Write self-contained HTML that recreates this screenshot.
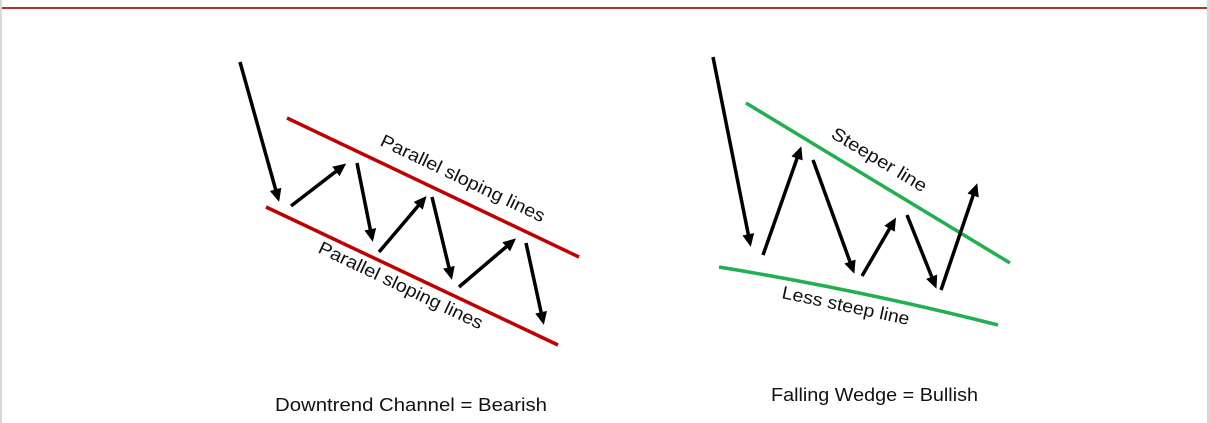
<!DOCTYPE html>
<html><head><meta charset="utf-8"><style>
html,body{margin:0;padding:0;background:#fff;}
svg{display:block;}
text{font-family:"Liberation Sans",sans-serif;fill:#111;}
</style></head><body>
<svg width="1210" height="423" viewBox="0 0 1210 423" xmlns="http://www.w3.org/2000/svg">
<defs>
<marker id="ah" markerWidth="13" markerHeight="12" refX="9" refY="6" orient="auto" markerUnits="userSpaceOnUse" viewBox="0 0 13 12">
<path d="M0,0 L13,6 L0,12 z" fill="#000"/>
</marker>
</defs>
<rect x="0" y="0" width="2" height="423" fill="#d8d8d8"/>
<rect x="1207" y="0" width="3" height="423" fill="#d8d8d8"/>
<rect x="2" y="7" width="1205" height="2" fill="#b8302e"/>
<!-- left channel -->
<line x1="287" y1="118" x2="579" y2="257" stroke="#c00000" stroke-width="3.5"/>
<line x1="266" y1="207" x2="558" y2="345" stroke="#c00000" stroke-width="3.5"/>
<g stroke="#000" stroke-width="3.5" marker-end="url(#ah)" fill="none">
<line x1="240" y1="62" x2="278" y2="198"/>
<line x1="291" y1="206" x2="343" y2="166"/>
<line x1="357" y1="163" x2="372" y2="238"/>
<line x1="379" y1="252" x2="424" y2="199"/>
<line x1="432" y1="197" x2="451" y2="276"/>
<line x1="459" y1="287" x2="513" y2="241"/>
<line x1="526" y1="243" x2="543" y2="321"/>
</g>
<text transform="translate(379,145) rotate(25.5)" font-size="18" textLength="180" lengthAdjust="spacingAndGlyphs">Parallel sloping lines</text>
<text transform="translate(317,252) rotate(25.5)" font-size="18" textLength="180" lengthAdjust="spacingAndGlyphs">Parallel sloping lines</text>
<text x="275" y="411" font-size="18" textLength="272" lengthAdjust="spacingAndGlyphs">Downtrend Channel = Bearish</text>
<!-- right wedge -->
<line x1="746" y1="103" x2="1010" y2="263" stroke="#20b050" stroke-width="3.5"/>
<path d="M719,267 Q860,290 998,325" stroke="#20b050" stroke-width="3.5" fill="none"/>
<g stroke="#000" stroke-width="3.5" marker-end="url(#ah)" fill="none">
<line x1="713" y1="57" x2="750" y2="243"/>
<line x1="763" y1="255" x2="800" y2="150"/>
<line x1="813" y1="160" x2="853" y2="270"/>
<line x1="862" y1="276" x2="894" y2="221"/>
<line x1="907" y1="215" x2="935" y2="285"/>
<line x1="941" y1="290" x2="976" y2="187"/>
</g>
<text transform="translate(830,137) rotate(31)" font-size="18" textLength="108" lengthAdjust="spacingAndGlyphs">Steeper line</text>
<text transform="translate(781,298) rotate(12)" font-size="18" textLength="130" lengthAdjust="spacingAndGlyphs">Less steep line</text>
<text x="771" y="401" font-size="18" textLength="207" lengthAdjust="spacingAndGlyphs">Falling Wedge = Bullish</text>
</svg>
</body></html>
